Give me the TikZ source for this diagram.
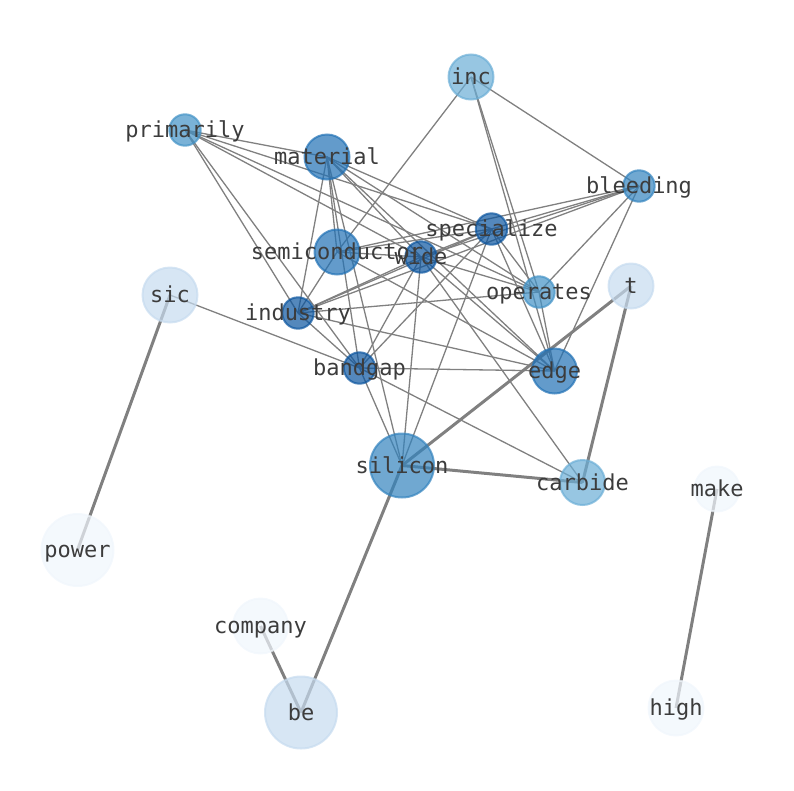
\documentclass[tikz,border=0pt]{standalone}
\usepackage{fontspec}
\newfontfamily\lbfont{DejaVu Sans Mono}
\pgfdeclarelayer{bg}
\pgfsetlayers{bg,main}
\definecolor{cA}{HTML}{0B559F}
\definecolor{cB}{HTML}{2171B5}
\definecolor{cC}{HTML}{3383BE}
\definecolor{cD}{HTML}{4292C6}
\definecolor{cE}{HTML}{6BAED6}
\definecolor{cF}{HTML}{C6DBEF}
\definecolor{cG}{HTML}{F0F6FC}
\definecolor{egray}{HTML}{808080}
\definecolor{lgray}{HTML}{3C3C3C}
\tikzset{
  nd/.style={circle, inner sep=0pt, outer sep=0pt, line width=2pt, fill opacity=0.7, draw opacity=0.7},
  sA/.style={nd, minimum size=31.4pt},
  sB/.style={nd, minimum size=45pt},
  sC/.style={nd, minimum size=55pt},
  sD/.style={nd, minimum size=64pt},
  sE/.style={nd, minimum size=72pt},
  lbl/.style={font={\lbfont\fontsize{22}{26}\selectfont}, text=lgray, inner sep=0pt, text height=16pt, text depth=5pt, yshift=-2pt},
  ethin/.style={draw=egray, line width=1.3pt},
  ethick/.style={draw=egray, line width=3pt},
}
\begin{document}
\begin{tikzpicture}[x=1pt,y=-1pt]
\useasboundingbox (0,0) rectangle (794,790);
% nodes
\node[sB, fill=cE, draw=cE] (inc) at (471,77) {};
\node[sA, fill=cD, draw=cD] (primarily) at (185,130) {};
\node[sB, fill=cB, draw=cB] (material) at (327,157) {};
\node[sA, fill=cC, draw=cC] (bleeding) at (639,186) {};
\node[sA, fill=cA, draw=cA] (specialize) at (491.5,229) {};
\node[sB, fill=cB, draw=cB] (semiconductor) at (337,252) {};
\node[sA, fill=cA, draw=cA] (wide) at (421,257) {};
\node[sC, fill=cF, draw=cF] (sic) at (170,295) {};
\node[sB, fill=cF, draw=cF] (t) at (631,286) {};
\node[sA, fill=cD, draw=cD] (operates) at (539,292) {};
\node[sA, fill=cA, draw=cA] (industry) at (298,313) {};
\node[sA, fill=cA, draw=cA] (bandgap) at (359.5,368) {};
\node[sB, fill=cB, draw=cB] (edge) at (554.5,371) {};
\node[sD, fill=cC, draw=cC] (silicon) at (402,465.5) {};
\node[sB, fill=cE, draw=cE] (carbide) at (582.5,482.5) {};
\node[sB, fill=cG, draw=cG] (make) at (717,489) {};
\node[sE, fill=cG, draw=cG] (power) at (77.5,550) {};
\node[sC, fill=cG, draw=cG] (company) at (260.5,626) {};
\node[sE, fill=cF, draw=cF] (be) at (301,712.5) {};
\node[sC, fill=cG, draw=cG] (high) at (676,708) {};
% edges
\begin{pgfonlayer}{bg}
\foreach \a/\b in {inc/semiconductor, inc/edge, inc/operates, inc/bleeding,
  primarily/material, primarily/specialize, primarily/operates, primarily/wide, primarily/industry, primarily/bandgap,
  material/semiconductor, material/industry, material/bandgap, material/silicon, material/wide, material/specialize, material/operates, material/edge,
  bleeding/specialize, bleeding/semiconductor, bleeding/wide, bleeding/industry, bleeding/operates, bleeding/edge,
  specialize/wide, specialize/semiconductor, specialize/industry, specialize/operates, specialize/edge, specialize/bandgap, specialize/silicon,
  semiconductor/wide, semiconductor/industry, semiconductor/edge,
  wide/industry, wide/bandgap, wide/edge, wide/carbide, wide/silicon, wide/operates,
  industry/bandgap, industry/operates, industry/edge,
  bandgap/edge, bandgap/carbide, bandgap/silicon,
  operates/edge, sic/bandgap}
  \draw[ethin] (\a.center) -- (\b.center);
\foreach \a/\b in {sic/power, company/be, be/silicon, silicon/carbide, silicon/t, carbide/t, make/high}
  \draw[ethick] (\a.center) -- (\b.center);
\end{pgfonlayer}
% labels
\foreach \n in {inc, primarily, material, bleeding, specialize, semiconductor, wide, sic, t, operates, industry, bandgap, edge, silicon, carbide, make, power, company, be, high}
  \node[lbl] (lb-\n) at (\n.center) {\n};
\end{tikzpicture}
\end{document}
